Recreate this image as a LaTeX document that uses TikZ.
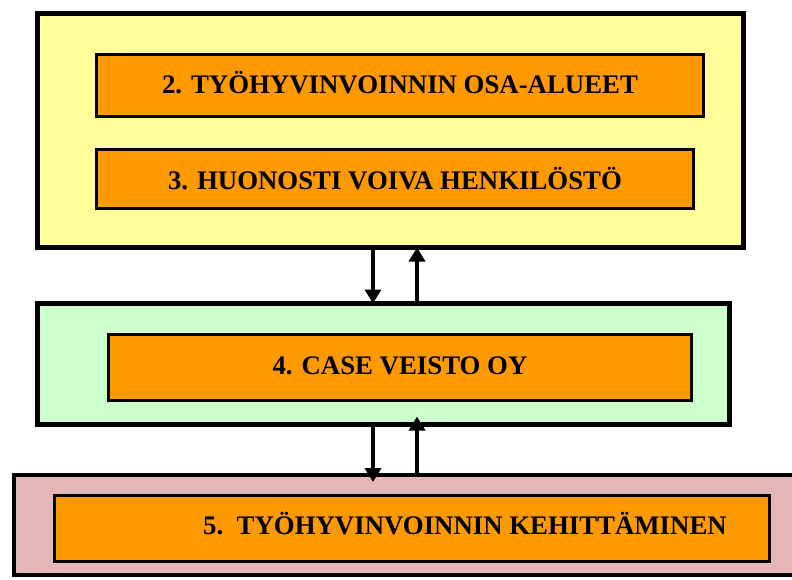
\documentclass[tikz,border=0pt]{standalone}
\usepackage{fontspec}
\setmainfont{Liberation Serif}
\usetikzlibrary{arrows.meta,calc}
\definecolor{panelyellow}{HTML}{FFFF99}
\definecolor{panelgreen}{HTML}{CCFFCC}
\definecolor{panelpink}{HTML}{E4B6B6}
\definecolor{boxorange}{HTML}{FF9900}
\begin{document}
\begin{tikzpicture}[x=1pt,y=-1pt,
  panel/.style={draw=black, line width=5pt, inner sep=0pt, outer sep=0pt, rectangle},
  stage/.style={draw=black, fill=boxorange, line width=3pt, inner sep=0pt, rectangle},
  caption/.style={font=\fontsize{26.8}{30}\selectfont\bfseries, inner sep=0pt},
  flow/.style={line width=4pt, -{Triangle[width=16pt,length=14pt]}}]
\useasboundingbox (0,0) rectangle (792,579);
\clip (0,0) rectangle (792,579);

% upper panel
\node[panel, fill=panelyellow, minimum width=706pt, minimum height=234pt] (yellow) at (390.5,130.5) {};
\node[stage, minimum width=607pt, minimum height=62pt] (s2) at (400,85.5) {};
\node[stage, minimum width=597pt, minimum height=59pt] (s3) at (395,179) {};
\node[caption, anchor=base] (t2) at (400,93) {2. TYÖHYVINVOINNIN OSA-ALUEET};
\node[caption, anchor=base] (t3) at (395,189) {3. HUONOSTI VOIVA HENKILÖSTÖ};

% middle panel
\node[panel, fill=panelgreen, minimum width=692pt, minimum height=121pt] (green) at (383.5,364) {};
\node[stage, minimum width=583pt, minimum height=66pt] (s4) at (400,367.5) {};
\node[caption, anchor=base] (t4) at (400,374) {4. CASE VEISTO OY};

% lower panel
\node[panel, line width=4pt, fill=panelpink, minimum width=786pt, minimum height=100pt] (pink) at (407,525) {};
\node[stage, minimum width=715pt, minimum height=66pt] (s5) at (412,528.5) {};
\node[caption, anchor=base west] (t5) at (203,534) {5.\ \ TYÖHYVINVOINNIN KEHITTÄMINEN};

% arrow columns
\coordinate (dA) at (373,0);
\coordinate (uA) at (417,0);
\draw[flow] (yellow.south -| dA) -- (green.north -| dA);
\draw[flow] (green.north -| uA) -- (yellow.south -| uA);
\draw[flow] (green.south -| dA) -- ($(pink.north -| dA)+(0,7)$);
\draw[flow] (pink.north -| uA) -- ($(green.south -| uA)+(0,-8)$);
\end{tikzpicture}
\end{document}
